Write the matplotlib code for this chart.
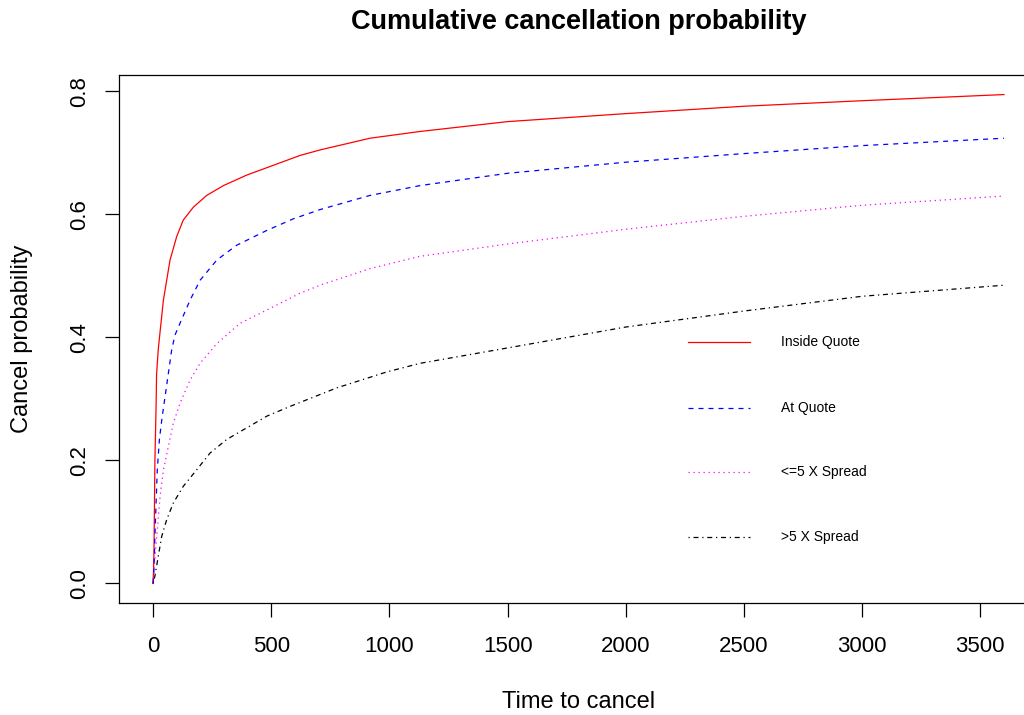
import matplotlib
matplotlib.use("Agg")
import matplotlib.pyplot as plt

plt.rcParams['font.family'] = ['Liberation Sans', 'DejaVu Sans']

# values
inside_x = [0, 2, 4, 8, 13, 15, 22, 30, 44, 72, 100, 128, 171, 227, 298, 396, 509, 622, 707, 918, 1130,
            1500, 2000, 2500, 3000, 3600]
inside_y = [0.0, 0.02, 0.05, 0.2, 0.29, 0.34, 0.38, 0.41, 0.461, 0.526, 0.564, 0.591, 0.612, 0.631, 0.647,
            0.664, 0.68, 0.696, 0.705, 0.724, 0.735, 0.751, 0.764, 0.776, 0.785, 0.795]

at_x = [0, 4, 8, 13, 18, 27, 37, 51, 65, 79, 93, 114, 157, 199, 270, 354, 481, 594, 707, 918, 1130,
        1500, 2000, 2500, 3000, 3600]
at_y = [0.0, 0.023, 0.077, 0.131, 0.185, 0.234, 0.266, 0.304, 0.342, 0.38, 0.404, 0.423, 0.461, 0.493,
        0.526, 0.55, 0.574, 0.593, 0.608, 0.631, 0.647, 0.667, 0.685, 0.699, 0.712, 0.724]

le5_x = [0, 8, 18, 30, 44, 65, 86, 114, 157, 199, 270, 368, 509, 622, 707, 918, 1130,
         1500, 2000, 2500, 3000, 3600]
le5_y = [0.0, 0.04, 0.088, 0.142, 0.185, 0.223, 0.261, 0.293, 0.331, 0.358, 0.39, 0.423, 0.45, 0.472,
         0.485, 0.512, 0.532, 0.552, 0.576, 0.597, 0.615, 0.63]

gt5_x = [0, 8, 22, 37, 58, 86, 128, 185, 241, 311, 396, 481, 580, 777, 989, 1130,
         1500, 2000, 2500, 3000, 3600]
gt5_y = [0.0, 0.012, 0.044, 0.077, 0.104, 0.131, 0.158, 0.185, 0.212, 0.234, 0.253, 0.272, 0.288, 0.318,
         0.344, 0.358, 0.383, 0.417, 0.443, 0.467, 0.485]

labels = ['Inside Quote', 'At Quote', '<=5 X Spread', '>5 X Spread']
colors = ['#ff0000', '#0000ff', '#ff00ff', '#000000']
dashes = [None, (4, 4), (1, 3), (1, 3, 4, 3)]

fig = plt.figure(figsize=(10.24, 7.15), dpi=100)
# plot box runs past the right edge of the picture, as in the reference
ax = fig.add_axes([0.1162, 0.1566, 0.8975, 0.7385])

series = [(inside_x, inside_y), (at_x, at_y), (le5_x, le5_y), (gt5_x, gt5_y)]
for (xs, ys), c, d, lab in zip(series, colors, dashes, labels):
    line, = ax.plot(xs, ys, color=c, lw=0.9, label=lab)
    if d is not None:
        line.set_dashes(d)

ax.set_xlim(-144, 3744)
ax.set_ylim(-0.0318, 0.8268)
ax.set_xticks(range(0, 3501, 500))
ax.set_yticks([0.0, 0.2, 0.4, 0.6, 0.8])
ax.set_yticklabels(['0.0', '0.2', '0.4', '0.6', '0.8'], rotation=90, va='center')
ax.tick_params(direction='out', length=10, labelsize=16, width=0.9)
ax.tick_params(axis='x', pad=14)
ax.tick_params(axis='y', pad=11)
for sp in ax.spines.values():
    sp.set_linewidth(0.9)

ax.text(0.5, 1.088, 'Cumulative cancellation probability', transform=ax.transAxes,
        fontsize=19.5, fontweight='bold', ha='center', va='baseline')
ax.set_xlabel('Time to cancel', fontsize=17)
ax.xaxis.set_label_coords(0.5, -0.1667)
ax.set_ylabel('Cancel probability', fontsize=17)
ax.yaxis.set_label_coords(-0.0936, 0.5)

# legend drawn in data coordinates like R's legend()
leg_y = [0.393, 0.286, 0.182, 0.075]
for ly, c, d, lab in zip(leg_y, colors, dashes, labels):
    line, = ax.plot([2265, 2527], [ly, ly], color=c, lw=0.9)
    if d is not None:
        line.set_dashes(d)
    ax.text(2658, ly, lab, fontsize=10, va='center', ha='left')

fig.savefig('out.png', dpi=100)
